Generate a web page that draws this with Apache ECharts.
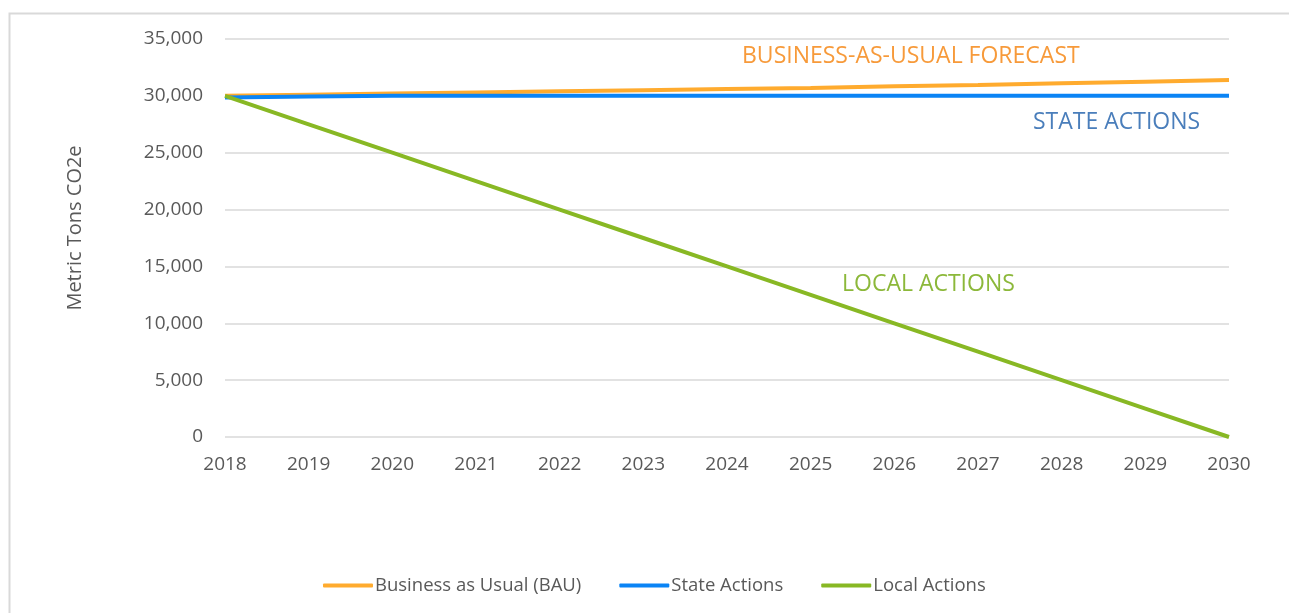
<!DOCTYPE html>
<html>
<head>
<meta charset="utf-8">
<script src="https://cdn.jsdelivr.net/npm/echarts@6/dist/echarts.min.js"></script>
<style>
  html, body { margin: 0; padding: 0; background: #fff; }
  #chart { width: 1289px; height: 613px; }
</style>
</head>
<body>
<div id="chart"></div>
<script>
// years on the x axis
const years = ["2018", "2019", "2020", "2021", "2022", "2023", "2024", "2025", "2026", "2027", "2028", "2029", "2030"];
// emissions in metric tons CO2e
const bauValues = [30000, 30100, 30200, 30300, 30400, 30500, 30600, 30700, 30850, 30950, 31100, 31250, 31400];
const stateValues = [29850, 29950, 30000, 30000, 30000, 30000, 30000, 30000, 30000, 30000, 30000, 30000, 30000];
const localValues = [30000, 27500, 25000, 22500, 20000, 17500, 15000, 12500, 10000, 7500, 5000, 2500, 0];
const seriesNames = ["Business as Usual (BAU)", "State Actions", "Local Actions"];

const chart = echarts.init(document.getElementById("chart"));
const font = "'Open Sans', sans-serif";

const lineSeries = (name, data, color) => ({
  name: name,
  type: "line",
  data: data,
  symbol: "none",
  lineStyle: { width: 4, color: color },
  itemStyle: { color: color },
});

// callout text placed next to the lines
const callout = (text, x, y, color) => ({
  type: "text",
  x: x,
  y: y,
  silent: true,
  style: { text: text, fill: color, font: "23px " + font, verticalAlign: "middle" },
});

chart.setOption({
  animation: false,
  grid: { left: 225, right: 60, top: 39, bottom: 176 },
  legend: {
    bottom: 13,
    left: 318,
    itemWidth: 50,
    itemHeight: 4,
    itemGap: 38,
    icon: "roundRect",
    textStyle: { color: "#595959", fontSize: 18.5, fontFamily: font, padding: [0, 0, 0, -3] },
    data: seriesNames,
  },
  xAxis: {
    type: "category",
    data: years,
    boundaryGap: false,
    axisLine: { show: false },
    axisTick: { show: false },
    axisLabel: { color: "#595959", fontSize: 19, fontFamily: font, margin: 18 },
  },
  yAxis: {
    type: "value",
    min: 0,
    max: 35000,
    interval: 5000,
    name: "Metric Tons CO2e",
    nameLocation: "middle",
    nameGap: 140,
    nameTextStyle: { color: "#595959", fontSize: 20, fontFamily: font, padding: [0, 0, 0, 20] },
    axisLabel: {
      color: "#595959",
      fontSize: 19,
      fontFamily: font,
      margin: 22,
      formatter: (v) => v.toLocaleString("en-US"),
    },
    splitLine: { lineStyle: { color: "#d9d9d9", width: 1.5 } },
  },
  graphic: [
    {
      type: "rect",
      left: 7,
      top: 11,
      silent: true,
      shape: { width: 1300, height: 620 },
      style: { fill: "none", stroke: "#d9d9d9", lineWidth: 2 },
    },
    callout("BUSINESS-AS-USUAL FORECAST", 742, 56, "#f79a3a"),
    callout("STATE ACTIONS", 1033, 122, "#4a7ebb"),
    callout("LOCAL ACTIONS", 842, 284, "#8cb83a"),
  ],
  series: [
    lineSeries(seriesNames[0], bauValues, "#ffab2e"),
    lineSeries(seriesNames[1], stateValues, "#0a84f5"),
    lineSeries(seriesNames[2], localValues, "#88b824"),
  ],
});
</script>
</body>
</html>
